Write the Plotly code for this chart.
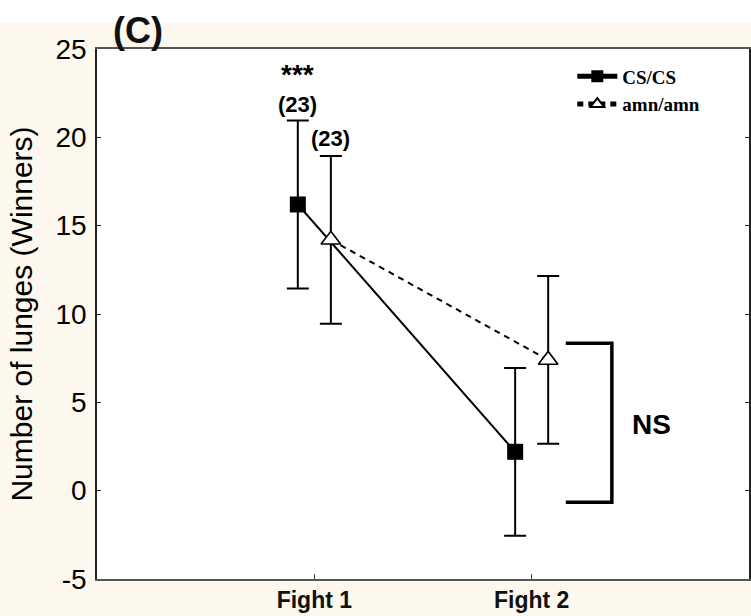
import plotly.graph_objects as go

# Fight categories and per-genotype lunge counts (mean ± error)
fights = ["Fight 1", "Fight 2"]
fight_pos = [1, 2]
cs_mean = [16.2, 2.2]
cs_err = [4.75, 4.75]
amn_mean = [14.2, 7.4]
amn_err = [4.75, 4.75]
n_labels = ["(23)", "(23)"]
sig_label = "***"

# y ticks (plain hyphen for negatives)
y_ticks = [-5, 0, 5, 10, 15, 20, 25]
y_ticktext = ["-5", "0", "5", "10", "15", "20", "25"]

# Horizontal dodge between the two genotypes
dodge = 0.076
cs_x = [p - dodge for p in fight_pos]
amn_x = [p + dodge for p in fight_pos]

# NS bracket spanning the Fight 2 comparison
bracket_x = [2.157, 2.369]
bracket_y = [8.35, -0.65]

CREAM = "#fcf8ee"

fig = go.Figure()

fig.add_trace(go.Scatter(
    x=cs_x, y=cs_mean, name="<b>CS/CS</b>", mode="lines+markers",
    line=dict(color="black", width=2),
    marker=dict(symbol="square", size=16, color="black"),
    error_y=dict(type="data", array=cs_err, color="black", thickness=2, width=11),
))
fig.add_trace(go.Scatter(
    x=amn_x, y=amn_mean, name="<b>amn/amn</b>", mode="lines+markers",
    line=dict(color="black", width=2, dash="6px,5px"),
    marker=dict(symbol="triangle-up", size=17, color="white",
                line=dict(color="black", width=1.6)),
    error_y=dict(type="data", array=amn_err, color="black", thickness=2, width=11),
))

# significance bracket
fig.add_shape(
    type="path", xref="x", yref="y",
    path=(f"M {bracket_x[0]},{bracket_y[0]} L {bracket_x[1]},{bracket_y[0]} "
          f"L {bracket_x[1]},{bracket_y[1]} L {bracket_x[0]},{bracket_y[1]}"),
    line=dict(color="black", width=3.5),
)
fig.add_annotation(x=2.55, y=(bracket_y[0] + bracket_y[1]) / 2 - 0.1, text="<b>NS</b>",
                   showarrow=False, font=dict(family="Liberation Sans", size=28, color="black"))

# sample sizes above the Fight 1 error bars
fig.add_annotation(x=cs_x[0], y=cs_mean[0] + cs_err[0], yshift=16, text=f"<b>{n_labels[0]}</b>",
                   showarrow=False, font=dict(family="Liberation Sans", size=22, color="black"))
fig.add_annotation(x=amn_x[0], y=amn_mean[0] + amn_err[0], yshift=17, text=f"<b>{n_labels[1]}</b>",
                   showarrow=False, font=dict(family="Liberation Sans", size=22, color="black"))
# significance stars stacked above the CS/CS sample size
fig.add_annotation(x=cs_x[0], y=cs_mean[0] + cs_err[0], yanchor="bottom", yshift=29,
                   text=f"<b>{sig_label}</b>", showarrow=False,
                   font=dict(family="Liberation Sans", size=28, color="black"))

# panel letter
fig.add_annotation(xref="paper", yref="paper", x=0.063, y=1.034, text="<b>(C)</b>",
                   showarrow=False, xanchor="center", yanchor="middle",
                   font=dict(family="Liberation Sans", size=36, color="#111"))

# white strip along the top edge of the page
fig.add_shape(type="rect", xref="paper", yref="paper", x0=-0.3, x1=1.2, y0=1.049, y1=1.2,
              fillcolor="white", line=dict(width=0), layer="below")

fig.update_layout(
    width=751, height=616,
    margin=dict(l=97, r=0, t=49, b=37),
    paper_bgcolor=CREAM, plot_bgcolor="white",
    font=dict(family="Liberation Sans", color="black"),
    showlegend=True,
    legend=dict(x=0.729, y=0.984, xanchor="left", yanchor="top",
                bgcolor="rgba(0,0,0,0)", borderwidth=0, itemwidth=40,
                font=dict(family="Liberation Serif", size=19, color="black"),
                itemsizing="constant", tracegroupgap=0),
    xaxis=dict(range=[0, 3], tickvals=fight_pos, ticktext=[f"<b>{f}</b>" for f in fights],
               ticks="inside", ticklen=5, tickcolor="#444", showgrid=False, zeroline=False,
               showline=True, linecolor="#555", linewidth=1.5, mirror=True,
               tickfont=dict(family="Liberation Sans", size=23, color="#111")),
    yaxis=dict(range=[-5, 25], tickvals=y_ticks, ticktext=y_ticktext,
               ticks="inside", ticklen=4, tickcolor="#222",
               showgrid=False, zeroline=False, showline=True, linecolor="#222", linewidth=1.5,
               mirror="ticks", ticklabelstandoff=3,
               tickfont=dict(family="Liberation Sans", size=28, color="black"),
               title=dict(text="Number of lunges (Winners)", standoff=14,
                          font=dict(family="Liberation Sans", size=30, color="black"))),
)

fig.write_html("out.html")
